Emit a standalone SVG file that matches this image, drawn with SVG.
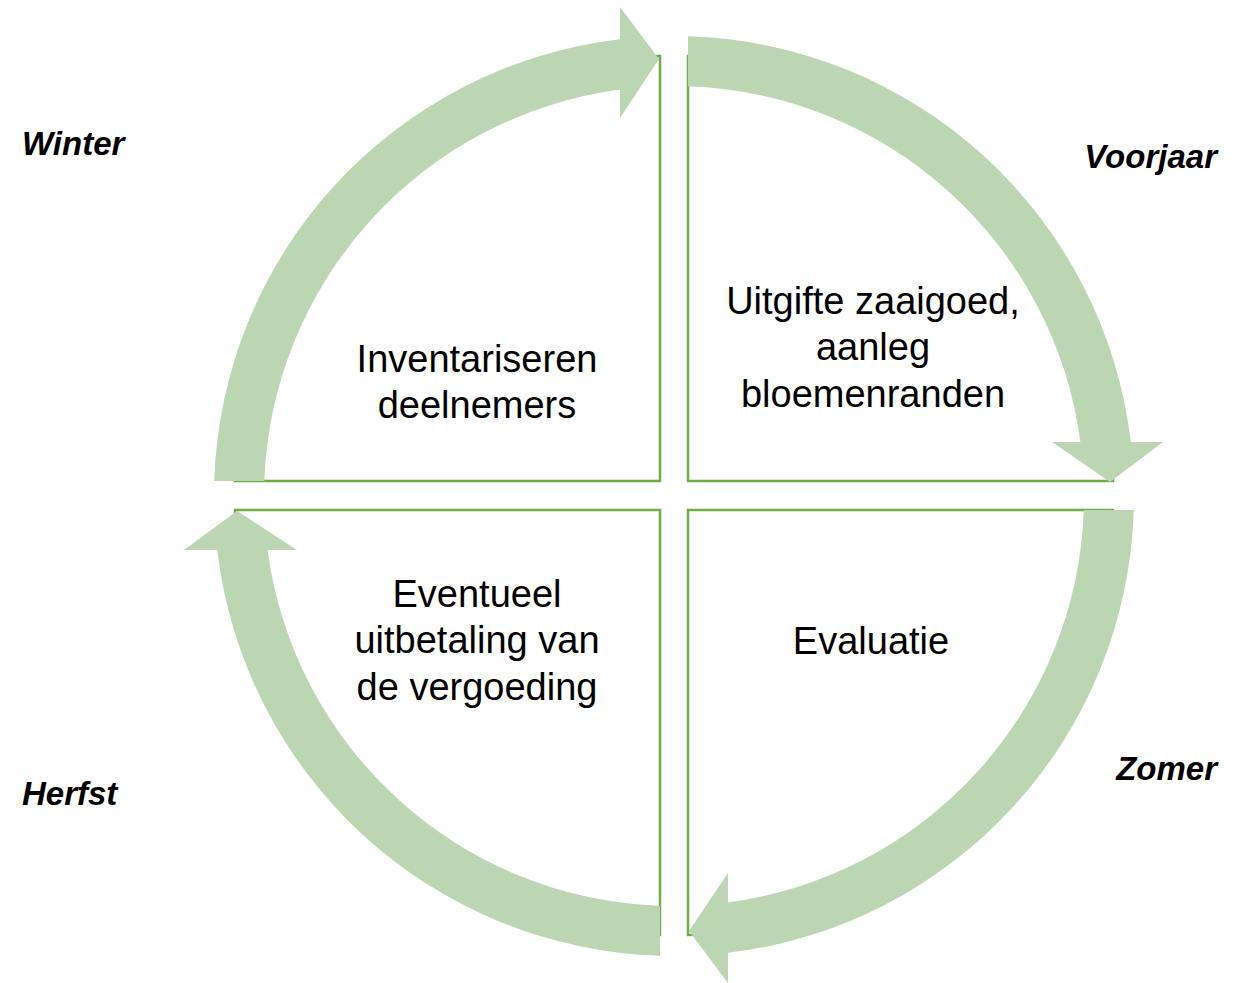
<svg xmlns="http://www.w3.org/2000/svg" width="1240" height="983" viewBox="0 0 1240 983">
<style>
.quad{fill:#ffffff;stroke:#70AD47;stroke-width:2.5}
.arrow{fill:#BCD5B3;stroke:none}
.txt{font-family:"Liberation Sans",Arial,sans-serif;font-size:38px;fill:#000;text-anchor:middle}
.season{font-family:"Liberation Sans",Arial,sans-serif;font-size:33px;font-weight:bold;font-style:italic;fill:#000}
</style>
<rect width="1240" height="983" fill="#ffffff"/>
<g id="node-winter">
<path class="quad" d="M 660,481 L 235,481 A 425 425 0 0 1 660,56 Z"/>
<text class="txt" x="477" y="372">Inventariseren</text>
<text class="txt" x="477" y="418">deelnemers</text>
</g>
<g id="node-voorjaar">
<path class="quad" d="M 688,481 L 688,56 A 425 425 0 0 1 1113,481 Z"/>
<text class="txt" x="873" y="314">Uitgifte zaaigoed,</text>
<text class="txt" x="873" y="360">aanleg</text>
<text class="txt" x="873" y="407">bloemenranden</text>
</g>
<g id="node-zomer">
<path class="quad" d="M 688,510 L 1113,510 A 425 425 0 0 1 688,935 Z"/>
<text class="txt" x="871" y="654">Evaluatie</text>
</g>
<g id="node-herfst">
<path class="quad" d="M 660,510 L 660,935 A 425 425 0 0 1 235,510 Z"/>
<text class="txt" x="477" y="607">Eventueel</text>
<text class="txt" x="477" y="653">uitbetaling van</text>
<text class="txt" x="477" y="700">de vergoeding</text>
</g>
<g id="connectors">
<path class="arrow" d="M 214.2,481 A 460 460 0 0 1 620,39.2 L 620,7 L 659,59 L 620,118 L 620,89.6 A 410 410 0 0 0 264.3,481 Z"/>
<path class="arrow" d="M 688,36.2 A 460 460 0 0 1 1130.8,442 L 1163,442 L 1110,482 L 1052,442 L 1080.4,442 A 410 410 0 0 0 688,86.2 Z"/>
<path class="arrow" d="M 1133.8,510 A 460 460 0 0 1 728,952.8 L 728,983 L 689,931 L 728,873 L 728,902.4 A 410 410 0 0 0 1083.8,510 Z"/>
<path class="arrow" d="M 660,955.8 A 460 460 0 0 1 217.2,550 L 184,550 L 237,511 L 297,550 L 267.6,550 A 410 410 0 0 0 660,905.8 Z"/>
</g>
<g id="labels">
<text class="season" x="22" y="155">Winter</text>
<text class="season" x="1217" y="168" text-anchor="end">Voorjaar</text>
<text class="season" x="1217" y="780" text-anchor="end">Zomer</text>
<text class="season" x="22" y="805">Herfst</text>
</g>
</svg>
